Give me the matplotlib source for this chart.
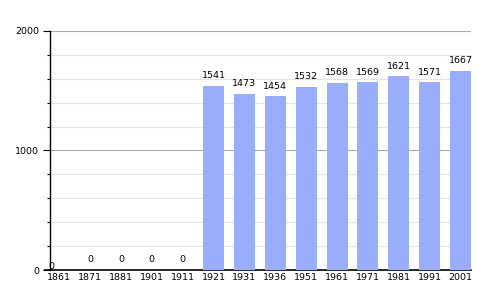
import matplotlib
matplotlib.use("Agg")
import matplotlib.pyplot as plt
from matplotlib.ticker import MultipleLocator

years = ["1861", "1871", "1881", "1901", "1911", "1921", "1931", "1936",
         "1951", "1961", "1971", "1981", "1991", "2001"]
population = [0, 0, 0, 0, 0, 1541, 1473, 1454, 1532, 1568, 1569, 1621, 1571, 1667]

fig = plt.figure(figsize=(5, 3), dpi=100)
ax = fig.add_axes([0.1, 0.1, 0.842, 0.797])
x = list(range(len(years)))
ax.bar(x, population, width=0.68, color="#9aadfc", zorder=3)

ax.set_xlim(-0.3, len(years) - 1 + 0.34)
ax.set_ylim(0, 2000)
ax.yaxis.set_major_locator(MultipleLocator(1000))
ax.yaxis.set_minor_locator(MultipleLocator(200))
ax.grid(axis="y", which="minor", color="#e4e4e4", linewidth=0.8, zorder=0)
ax.grid(axis="y", which="major", color="#aaaaaa", linewidth=0.8, zorder=0)
ax.set_xticks(x)
ax.set_xticklabels(years, fontsize=6.8)
ax.tick_params(axis="x", length=0, pad=2)
ax.tick_params(axis="y", which="major", length=5, width=0.8, labelsize=6.8, pad=3)
ax.tick_params(axis="y", which="minor", length=2.5, width=0.8)
for s in ["top", "right"]:
    ax.spines[s].set_visible(False)
ax.spines["left"].set_linewidth(1)
ax.spines["bottom"].set_linewidth(1.2)
ax.plot([-0.48, -0.3], [0, 0], color="black", linewidth=1.2, clip_on=False,
        solid_capstyle="butt", zorder=5)

for i, v in enumerate(population):
    dx = -6 if i == 0 else 0
    dy = -1 if i == 0 else 4
    ax.annotate(str(v), (i, v), xytext=(dx, dy), textcoords="offset points",
                ha="center", va="bottom", fontsize=6.8)

fig.savefig("out.png", dpi=100)
